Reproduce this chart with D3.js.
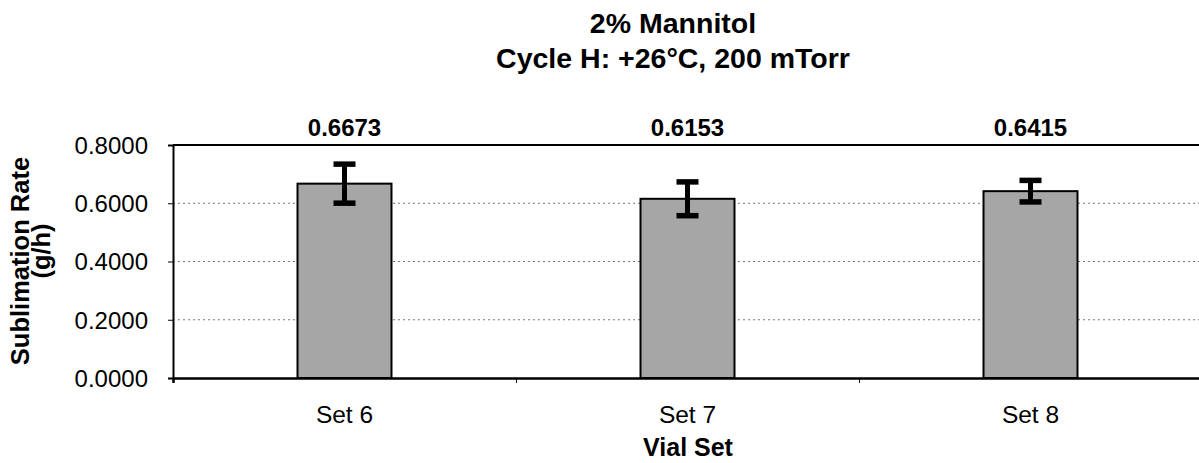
<!DOCTYPE html>
<html>
<head>
<meta charset="utf-8">
<script src="https://cdn.jsdelivr.net/npm/d3@7"></script>
<style>
  body { margin: 0; background: #fff; }
  text { font-family: "Liberation Sans", Arial, sans-serif; fill: #000; }
</style>
</head>
<body>
<div id="chart"></div>
<script>
var categories = ["Set 6", "Set 7", "Set 8"];
var rates = [0.6673, 0.6153, 0.6415];
var errors = [0.067, 0.058, 0.037];
var yTicks = [0, 0.2, 0.4, 0.6, 0.8];
var titleLines = ["2% Mannitol", "Cycle H: +26\u00B0C, 200 mTorr"];

var W = 1199, H = 463;
var margin = { top: 145, right: -3, bottom: 85, left: 173 },
    width = W - margin.left - margin.right,
    height = H - margin.top - margin.bottom;

var svg = d3.select("#chart")
    .append("svg")
    .attr("width", W)
    .attr("height", H);

var g = svg.append("g")
    .attr("transform", "translate(" + margin.left + "," + margin.top + ")");

var x = d3.scaleBand()
    .domain(categories)
    .range([0, width])
    .padding(0);

var y = d3.scaleLinear()
    .domain([0, 0.8])
    .range([height, 0]);

var barW = x.bandwidth() * 0.274;

// gridlines
g.selectAll(".grid")
    .data(yTicks.filter(function (d) { return d > 0 && d < 0.8; }))
    .enter().append("line")
    .attr("x1", 0)
    .attr("x2", width)
    .attr("y1", function (d) { return y(d); })
    .attr("y2", function (d) { return y(d); })
    .attr("stroke", "#777")
    .attr("stroke-width", 1.2)
    .attr("stroke-dasharray", "2,3");

// top border of plot area
g.append("line")
    .attr("x1", 0).attr("x2", width)
    .attr("y1", y(0.8)).attr("y2", y(0.8))
    .attr("stroke", "#000")
    .attr("stroke-width", 2);

// bars
g.selectAll(".bar")
    .data(rates)
    .enter().append("rect")
    .attr("x", function (d, i) { return x(categories[i]) + x.bandwidth() / 2 - barW / 2; })
    .attr("y", function (d) { return y(d); })
    .attr("width", barW)
    .attr("height", function (d) { return height - y(d); })
    .attr("fill", "#a6a6a6")
    .attr("stroke", "#000")
    .attr("stroke-width", 2);

// error bars
var eb = g.selectAll(".err")
    .data(rates)
    .enter().append("g")
    .attr("transform", function (d, i) { return "translate(" + (x(categories[i]) + x.bandwidth() / 2) + ",0)"; });

eb.append("line")
    .attr("x1", 0).attr("x2", 0)
    .attr("y1", function (d, i) { return y(d + errors[i]); })
    .attr("y2", function (d, i) { return y(d - errors[i]); })
    .attr("stroke", "#000")
    .attr("stroke-width", 5);

eb.selectAll(".cap")
    .data(function (d, i) { return [d + errors[i], d - errors[i]]; })
    .enter().append("line")
    .attr("x1", -11).attr("x2", 11)
    .attr("y1", function (d) { return y(d); })
    .attr("y2", function (d) { return y(d); })
    .attr("stroke", "#000")
    .attr("stroke-width", 5.5);

// value labels
g.selectAll(".val")
    .data(rates)
    .enter().append("text")
    .attr("x", function (d, i) { return x(categories[i]) + x.bandwidth() / 2; })
    .attr("y", -9)
    .attr("text-anchor", "middle")
    .attr("font-weight", "bold")
    .style("font-size", "24px")
    .text(function (d) { return d.toFixed(4); });

// y axis
var yAxis = g.append("g")
    .call(d3.axisLeft(y).tickValues(yTicks).tickFormat(d3.format(".4f")).tickSizeOuter(0).tickSize(5).tickPadding(20));
yAxis.select(".domain").attr("stroke-width", 2);
yAxis.selectAll("text").style("font-size", "24px").attr("dy", "0.35em");

// x axis
var xTickPos = d3.scaleLinear().domain([0, categories.length]).range([0, width]);
var xAxis = g.append("g")
    .attr("transform", "translate(0," + height + ")")
    .call(d3.axisBottom(xTickPos).tickValues(d3.range(categories.length)).tickFormat("").tickSizeOuter(0).tickSize(5));
xAxis.select(".domain").attr("stroke-width", 2.5);

g.selectAll(".cat")
    .data(categories)
    .enter().append("text")
    .attr("x", function (d) { return x(d) + x.bandwidth() / 2; })
    .attr("y", height + 45)
    .attr("text-anchor", "middle")
    .style("font-size", "24.5px")
    .text(function (d) { return d; });

// axis titles
svg.append("text")
    .attr("x", 688)
    .attr("y", 456)
    .attr("text-anchor", "middle")
    .attr("font-weight", "bold")
    .style("font-size", "25px")
    .text("Vial Set");

svg.append("text")
    .attr("transform", "translate(29,261) rotate(-90)")
    .attr("text-anchor", "middle")
    .attr("font-weight", "bold")
    .style("font-size", "25.5px")
    .text("Sublimation Rate");

svg.append("text")
    .attr("transform", "translate(50,251) rotate(-90)")
    .attr("text-anchor", "middle")
    .attr("font-weight", "bold")
    .style("font-size", "25.5px")
    .text("(g/h)");

// title
svg.selectAll(".title")
    .data(titleLines)
    .enter().append("text")
    .attr("x", 673)
    .attr("y", function (d, i) { return 33 + i * 35; })
    .attr("text-anchor", "middle")
    .attr("font-weight", "bold")
    .style("font-size", "28.5px")
    .text(function (d) { return d; });
</script>
</body>
</html>
